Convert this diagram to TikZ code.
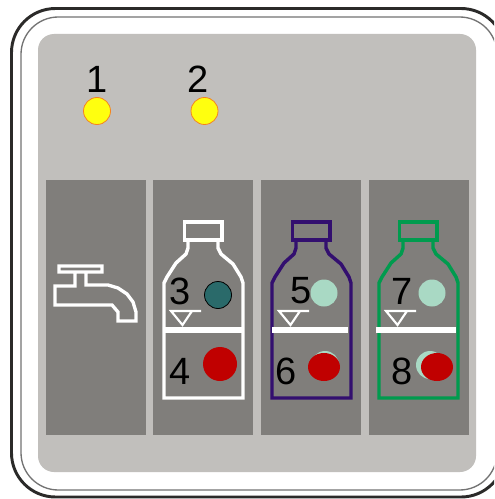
\documentclass[tikz,border=0pt]{standalone}
\usepackage{fontspec}
\setmainfont{Liberation Sans}
\definecolor{paneldark}{HTML}{807E7B}
\definecolor{panellight}{HTML}{C1BFBC}
\definecolor{framedark}{HTML}{2B2A29}
\definecolor{ledyellow}{HTML}{FFFF0F}
\definecolor{ledorange}{HTML}{F58220}
\definecolor{waterteal}{HTML}{2A6A6A}
\definecolor{waterpale}{HTML}{A9D9C4}
\definecolor{alarmred}{HTML}{C00000}
\definecolor{bottlepurple}{HTML}{330F6F}
\definecolor{bottlegreen}{HTML}{009B4E}
\tikzset{
  digit/.style={inner sep=0pt,font=\fontsize{28.5pt}{28.5pt}\selectfont},
  lamp/.style={circle,minimum size=#1*0.75pt,inner sep=0pt,line width=0.6pt},
}
\begin{document}
\begin{tikzpicture}[x=0.75pt,y=-0.75pt]
   \useasboundingbox (0,0) rectangle (494,499);
   \clip (0,0) rectangle (494,499);
   \fill[white] (0,0) rectangle (494,499);
   \draw[framedark,line width=2.2pt,rounded corners=33pt] (11.5,8.5) rectangle (505,497);
   \draw[black!55,line width=1pt,rounded corners=28pt] (21,17) rectangle (497,490);
   \fill[panellight,rounded corners=12pt] (38,34) rectangle (476,472);
   \foreach \xa/\xb in {46/146, 153/253, 261/361, 369/469}
   \fill[paneldark] (\xa,180) rectangle (\xb,435);
   % tap
   \draw[white,line width=2.5pt,line join=miter] (59,266) -- (102,266) -- (102,272) -- (59,272) -- cycle
      (75,272) -- (75,286) -- (55,286) -- (55,305) -- (112,305) -- (118,312) -- (118,321) -- (136,321) -- (136,312) -- (133,302) -- (127,294) -- (118,288) -- (108,285) -- (86,285) -- (86,272);
   % bottles
   \foreach \dx/\col/\da/\db in {0/white/165/243, 108/bottlepurple/164/240, 215/bottlegreen/161/241} {
      \begin{scope}[xshift=\dx*0.75pt]
      \draw[\col,line width=2.6pt,line join=miter] (184.5,222) rectangle (222,240);
      \draw[\col,line width=2.6pt,line join=miter] (188,241) -- (188,248) -- (186,254) -- (176,263) -- (167,277) -- (164,283) -- (164,398) -- (243,398) -- (243,283) -- (241,277) -- (233,264) -- (221,254) -- (218,248) -- (218,241);
      \fill[white] (\da,327) rectangle (\db,333);
      \draw[white,line width=1.6pt] (201,311) -- (171,311) -- (182.5,325) -- (192,311);
      \end{scope}
   }
   % level lamps
   \foreach \pos/\name/\wid/\col/\edge in {{(97,111)/ledone/27/ledyellow/ledorange}, {(204.5,111)/ledtwo/27/ledyellow/ledorange}, {(218,295)/lampa/27/waterteal/black}, {(220,364)/lampb/34/alarmred/none}, {(324,293)/lampc/27/waterpale/none}, {(432,293)/lampd/27/waterpale/none}, {(325,365)/lampe/28/waterpale/none}, {(430,365)/lampf/28/waterpale/none}}
   \node[lamp=\wid,fill=\col,draw=\edge] (\name) at \pos {};
   \foreach \pos/\name in {{(324,367)/alarmc}, {(437,367)/alarmd}}
   \fill[alarmred] \pos ellipse (16 and 14);
   \foreach \pos/\name/\disp in {{(97,79)/one/1}, {(198,79)/two/2}, {(180,291)/three/3}, {(180,371)/four/4}, {(301,291)/five/5}, {(286,371)/six/6}, {(402,291)/seven/7}, {(402,371)/eight/8}}
   \node[digit] (\name) at \pos {\disp};
\end{tikzpicture}
\end{document}
